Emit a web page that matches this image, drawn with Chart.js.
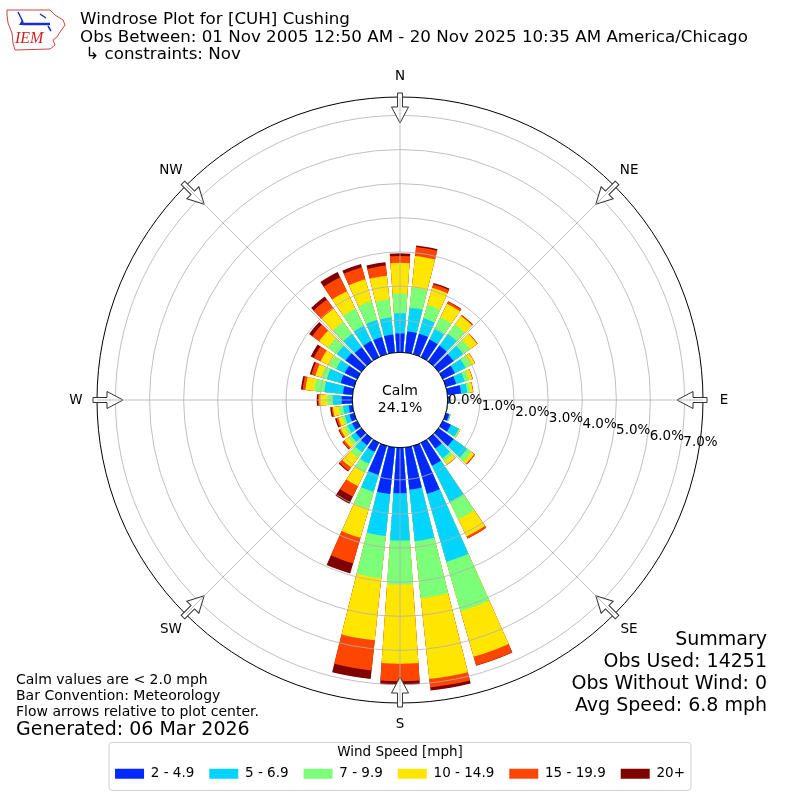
<!DOCTYPE html>
<html>
<head>
<meta charset="utf-8">
<title>Windrose Plot for [CUH] Cushing</title>
<script src="https://cdn.jsdelivr.net/npm/chart.js"></script>
<style>
  html, body { margin: 0; padding: 0; background: #fff; }
</style>
</head>
<body>
<canvas id="windrose" width="800" height="800"></canvas>
<script>
// ---- data (percent of all observations) ----
const directions = [0, 10, 20, 30, 40, 50, 60, 70, 80, 90, 100, 110,
                    120, 130, 140, 150, 160, 170, 180, 190, 200, 210, 220, 230,
                    240, 250, 260, 270, 280, 290, 300, 310, 320, 330, 340, 350];
const speedBins = ['2 - 4.9', '5 - 6.9', '7 - 9.9', '10 - 14.9', '15 - 19.9', '20+'];
const speedColors = ['#0028ff', '#00d4ff', '#7cff79', '#ffe600', '#ff4600', '#800000'];

const speed2to5 = [.61, .68, .68, .63, .63, .60, .45, .37, .46, .10, .06, .16,
                   .32, .60, .42, .80, 1.52, 1.30, 1.39, 1.43, .94, .35, .30, .27,
                   .22, .20, .17, .37, .34, .47, .46, .63, .57, .58, .58, .59];
const speed5to7 = [.59, .70, .47, .34, .42, .35, .35, .26, .18, .03, .01, .03,
                   .26, .49, .35, 1.18, 2.07, 1.52, 1.39, 1.24, .52, .39, .25, .16,
                   .15, .14, .17, .26, .55, .42, .28, .32, .48, .50, .52, .50];
const speed7to10 = [.58, .60, .41, .39, .35, .25, .17, .14, .09, .01, 0, .01,
                    .03, .16, .11, .57, 1.50, 1.68, 1.29, 1.24, .52, .29, .20, .10,
                    .10, .08, .12, .16, .29, .16, .23, .32, .44, .56, .57, .54];
const speed10to15 = [.90, .92, .52, .44, .30, .25, .13, .10, .08, .01, 0, 0,
                     .02, .10, .12, .56, 1.40, 2.38, 2.32, 1.83, .88, .44, .35, .14,
                     .13, .12, .18, .23, .27, .19, .28, .32, .48, .57, .67, .69];
const speed15to20 = [.20, .27, .11, .07, .03, .02, .01, .01, .01, 0, 0, 0,
                     0, .03, .01, .07, .26, .25, .51, .89, .78, .34, .12, .06,
                     .05, .06, .04, .04, .08, .12, .22, .25, .33, .45, .37, .30];
const speed20up = [.08, .04, .04, .01, .01, 0, 0, 0, 0, 0, 0, 0,
                   0, 0, 0, 0, .01, .09, .10, .25, .31, .23, .03, .02,
                   .02, .04, .04, .04, .05, .05, .10, .11, .11, .17, .10, .10];

const ringTicks = [0, 1, 2, 3, 4, 5, 6, 7];
const compassDirs = [0, 45, 90, 135, 180, 225, 270, 315];
const compassLabels = ['N', 'NE', 'E', 'SE', 'S', 'SW', 'W', 'NW'];
const calmPercent = 24.1;
// ---- end of data ----

const FONT = '"DejaVu Sans", sans-serif';
Chart.defaults.font.family = FONT;
Chart.defaults.color = '#000';

const barAngle = 8;   // degrees of each direction bar
const gapAngle = 2;   // white gap between bars

// stack the speed bins: each dataset is the running total, smallest drawn on top
const speedSeries = [speed2to5, speed5to7, speed7to10, speed10to15, speed15to20, speed20up];
let running = directions.map(() => 0);
const datasets = speedSeries.map(function(series, k) {
  running = running.map((v, i) => v + series[i]);
  const data = [];
  running.forEach(function(v) {
    data.push(Math.round(v * 1000) / 1000);
    data.push(null); // gap slot
  });
  return {
    label: speedBins[k],
    data: data,
    backgroundColor: speedColors[k],
    borderWidth: 0,
    angle: ctx => (ctx.dataIndex % 2 === 0 ? barAngle : gapAngle)
  };
});

const labels = [];
directions.forEach(function(d) {
  labels.push(d + '°');
  labels.push('');
});

const toXY = function(cx, cy, deg, rad) {
  const a = (deg - 90) * Math.PI / 180;
  return [cx + rad * Math.cos(a), cy + rad * Math.sin(a)];
};

const drawArrow = function(ctx, cx, cy, deg, rTail) {
  ctx.save();
  ctx.translate(cx, cy);
  ctx.rotate((deg - 90) * Math.PI / 180);
  ctx.beginPath();
  ctx.moveTo(rTail, -2.5);
  ctx.lineTo(rTail - 14, -2.5);
  ctx.lineTo(rTail - 14, -8.5);
  ctx.lineTo(rTail - 30, 0);
  ctx.lineTo(rTail - 14, 8.5);
  ctx.lineTo(rTail - 14, 2.5);
  ctx.lineTo(rTail, 2.5);
  ctx.closePath();
  ctx.fillStyle = '#fff';
  ctx.fill();
  ctx.strokeStyle = '#333';
  ctx.lineWidth = 1;
  ctx.stroke();
  ctx.restore();
};

const drawLogo = function(ctx) {
  ctx.save();
  const outline = [[7, 10], [50, 10], [55, 15], [63, 20], [65, 25], [60, 32], [57, 37],
                   [53, 40], [55, 45], [50, 49], [15, 50], [13, 43], [12, 33], [8, 23], [7, 15]];
  ctx.beginPath();
  outline.forEach((p, i) => (i ? ctx.lineTo(p[0], p[1]) : ctx.moveTo(p[0], p[1])));
  ctx.closePath();
  ctx.strokeStyle = '#d04040';
  ctx.lineWidth = 1;
  ctx.stroke();
  ctx.strokeStyle = '#1a2fc8';
  ctx.fillStyle = '#1a2fc8';
  ctx.lineWidth = 1.5;
  ctx.beginPath();
  ctx.moveTo(18, 12); ctx.lineTo(23, 22);
  ctx.moveTo(40, 14); ctx.lineTo(46, 18);
  ctx.moveTo(48, 26); ctx.lineTo(51, 31);
  ctx.stroke();
  ctx.lineWidth = 2.5;
  ctx.beginPath();
  ctx.moveTo(23, 24); ctx.lineTo(50, 24);
  ctx.stroke();
  ctx.beginPath();
  ctx.moveTo(19, 25); ctx.lineTo(22, 20); ctx.lineTo(25, 25);
  ctx.closePath();
  ctx.fill();
  ctx.font = 'italic 16px "Liberation Serif", serif';
  ctx.fillStyle = '#d02020';
  ctx.textAlign = 'left';
  ctx.textBaseline = 'alphabetic';
  ctx.fillText('IEM', 15, 43);
  ctx.restore();
};

// everything around the bars: calm circle, compass, arrows, texts
const roseDecor = {
  id: 'roseDecor',
  afterDraw(chart) {
    const ctx = chart.ctx;
    const r = chart.scales.r;
    const cx = r.xCenter;
    const cy = r.yCenter;
    const outer = r.drawingArea;
    const r0 = r.getDistanceFromCenterForValue(0);

    ctx.save();

    // flow arrows
    compassDirs.forEach(d => drawArrow(ctx, cx, cy, d, outer + 4));

    // angle lines every 45 degrees
    ctx.strokeStyle = '#b0b0b0';
    ctx.lineWidth = 0.8;
    compassDirs.forEach(function(d) {
      const p1 = toXY(cx, cy, d, r0);
      const p2 = toXY(cx, cy, d, outer);
      ctx.beginPath();
      ctx.moveTo(p1[0], p1[1]);
      ctx.lineTo(p2[0], p2[1]);
      ctx.stroke();
    });

    // calm circle
    ctx.beginPath();
    ctx.arc(cx, cy, r0 + 2, 0, Math.PI * 2);
    ctx.fillStyle = '#fff';
    ctx.fill();
    ctx.strokeStyle = '#000';
    ctx.lineWidth = 1;
    ctx.stroke();

    ctx.fillStyle = '#000';
    ctx.textAlign = 'center';
    ctx.textBaseline = 'middle';
    ctx.font = '14px ' + FONT;
    ctx.fillText('Calm', cx, cy - 9);
    ctx.fillText(calmPercent.toFixed(1) + '%', cx, cy + 8);

    // compass labels
    ctx.font = '13.5px ' + FONT;
    compassDirs.forEach(function(d, i) {
      const p = toXY(cx, cy, d, outer + 21);
      ctx.fillText(compassLabels[i], p[0], p[1]);
    });

    // ring labels
    ctx.textAlign = 'left';
    ctx.font = '13.5px ' + FONT;
    ringTicks.forEach(function(v) {
      const rad = r.getDistanceFromCenterForValue(v);
      ctx.fillText(v.toFixed(1) + '%', cx + rad * 0.985 + 3, cy + (rad - r0) * 0.178);
    });

    // header
    drawLogo(ctx);
    ctx.fillStyle = '#000';
    ctx.textAlign = 'left';
    ctx.textBaseline = 'middle';
    ctx.font = '16.7px ' + FONT;
    ctx.fillText('Windrose Plot for [CUH] Cushing', 80, 20);
    ctx.fillText('Obs Between: 01 Nov 2005 12:50 AM - 20 Nov 2025 10:35 AM America/Chicago', 80, 38);
    ctx.fillText(' \u21B3 constraints: Nov', 80, 55);

    // notes, bottom left
    ctx.font = '14px ' + FONT;
    ctx.fillText('Calm values are < 2.0 mph', 16, 680);
    ctx.fillText('Bar Convention: Meteorology', 16, 696);
    ctx.fillText('Flow arrows relative to plot center.', 16, 712);
    ctx.font = '19px ' + FONT;
    ctx.fillText('Generated: 06 Mar 2026', 16, 730);

    // summary, bottom right
    ctx.textAlign = 'right';
    ctx.fillText('Summary', 767, 640);
    ctx.fillText('Obs Used: 14251', 767, 662);
    ctx.fillText('Obs Without Wind: 0', 767, 684);
    ctx.fillText('Avg Speed: 6.8 mph', 767, 706);

    // frame around the legend
    const lg = chart.legend;
    if (lg && lg.lineWidths) {
      const pad = lg.options.labels.padding;
      const rowW = lg.lineWidths[0];
      const x0 = (lg.left + pad + lg.right - rowW) / 2 - 6;
      const w = rowW - pad + 12;
      const y0 = lg.top + 39;
      const h = 48;
      const rr = 3;
      ctx.beginPath();
      ctx.moveTo(x0 + rr, y0);
      ctx.lineTo(x0 + w - rr, y0);
      ctx.quadraticCurveTo(x0 + w, y0, x0 + w, y0 + rr);
      ctx.lineTo(x0 + w, y0 + h - rr);
      ctx.quadraticCurveTo(x0 + w, y0 + h, x0 + w - rr, y0 + h);
      ctx.lineTo(x0 + rr, y0 + h);
      ctx.quadraticCurveTo(x0, y0 + h, x0, y0 + h - rr);
      ctx.lineTo(x0, y0 + rr);
      ctx.quadraticCurveTo(x0, y0, x0 + rr, y0);
      ctx.closePath();
      ctx.strokeStyle = '#d0d0d0';
      ctx.lineWidth = 1;
      ctx.stroke();
    }

    ctx.restore();
  }
};

const windroseChart = new Chart(document.getElementById('windrose'), {
  type: 'polarArea',
  data: {
    labels: labels,
    datasets: datasets
  },
  options: {
    responsive: false,
    animation: false,
    layout: {
      padding: { top: 97, left: 97, right: 97, bottom: 9.4 }
    },
    scales: {
      r: {
        min: -1.34,
        max: 7.54,
        startAngle: -barAngle / 2,
        afterBuildTicks: function(scale) {
          scale.ticks = ringTicks.concat([scale.max]).map(v => ({ value: v }));
        },
        ticks: { display: false, z: 1 },
        grid: {
          circular: true,
          z: 1,
          color: ctx => (ctx.tick.value > 7.5 ? '#000' : (ctx.tick.value > 0 ? '#b0b0b0' : 'rgba(0,0,0,0)')),
          lineWidth: ctx => (ctx.tick.value > 7.5 ? 1 : 0.8)
        },
        angleLines: { display: false },
        pointLabels: { display: false }
      }
    },
    plugins: {
      tooltip: { enabled: false },
      legend: {
        position: 'bottom',
        onClick: null,
        title: {
          display: true,
          text: 'Wind Speed [mph]',
          color: '#000',
          font: { size: 13.5 },
          padding: { top: 42, bottom: -9.5 }
        },
        labels: {
          boxWidth: 29,
          boxHeight: 10,
          padding: 15,
          color: '#000',
          font: { size: 13.5 },
          generateLabels: chart => chart.data.datasets.map((ds, i) => ({
            text: ds.label,
            fillStyle: ds.backgroundColor,
            strokeStyle: ds.backgroundColor,
            lineWidth: 0,
            hidden: false,
            datasetIndex: i
          }))
        }
      }
    }
  },
  plugins: [roseDecor]
});
</script>
</body>
</html>
